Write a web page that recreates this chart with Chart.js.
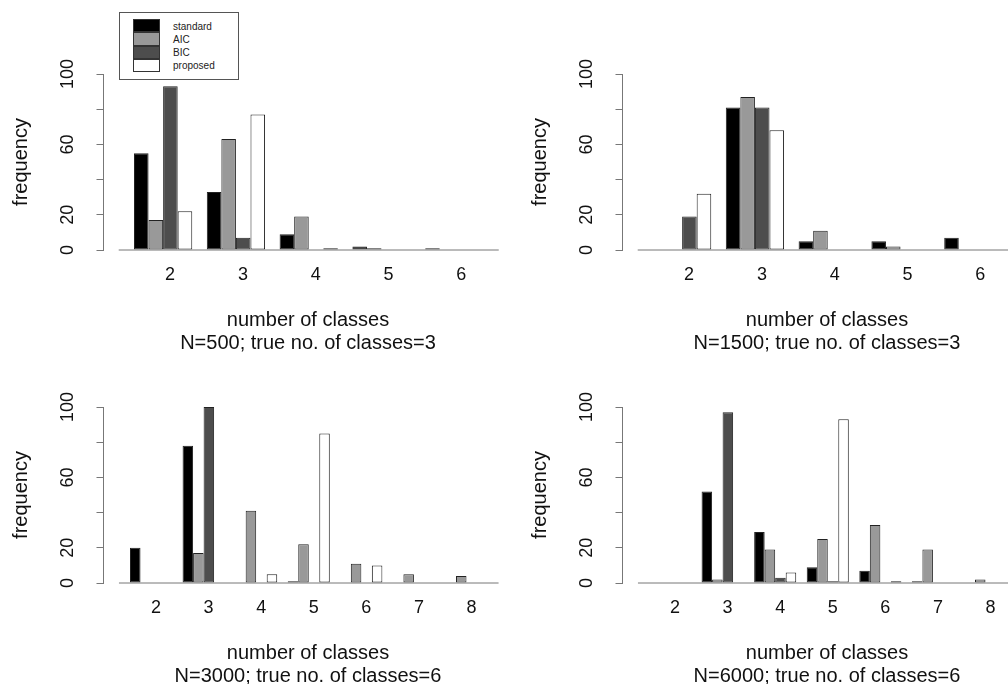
<!DOCTYPE html>
<html>
<head>
<meta charset="utf-8">
<script src="https://cdn.jsdelivr.net/npm/chart.js@4.4.1/dist/chart.umd.min.js"></script>
<style>
  html, body { margin: 0; padding: 0; background: #fff; }
  body { width: 1008px; height: 684px; overflow: hidden; position: relative;
         font-family: "Liberation Sans", Arial, Helvetica, sans-serif; }
  .panel { position: absolute; }
  .panel canvas { display: block; }
  #legend { position: absolute; left: 119px; top: 12px; width: 120px; height: 68px;
            box-sizing: border-box; border: 1px solid #555; background: #fff; z-index: 5; }
  #legend .sw { position: absolute; left: 13px; width: 27px; box-sizing: border-box; border: 1px solid #333; }
  #legend .lb { position: absolute; left: 53px; font-size: 10px; line-height: 13px; color: #222; }
</style>
</head>
<body>
<div class="panel" style="left:0px;top:0px"><canvas id="c1" width="520" height="360"></canvas></div>
<div class="panel" style="left:519px;top:0px"><canvas id="c2" width="520" height="360"></canvas></div>
<div class="panel" style="left:0px;top:333px"><canvas id="c3" width="520" height="360"></canvas></div>
<div class="panel" style="left:519px;top:333px"><canvas id="c4" width="520" height="360"></canvas></div>
<div id="legend"></div>
<script>
// ---------------- data ----------------
const seriesNames = ['standard', 'AIC', 'BIC', 'proposed'];
const seriesColors = ['#000000', '#999999', '#4d4d4d', '#ffffff'];

const classesSmall = [2, 3, 4, 5, 6];
const classesLarge = [2, 3, 4, 5, 6, 7, 8];

const yTickShown = [0, 20, 60, 100];
const xTitle = 'number of classes';
const subtitles = [
  'N=500; true no. of classes=3',
  'N=1500; true no. of classes=3',
  'N=3000; true no. of classes=6',
  'N=6000; true no. of classes=6'
];

const n500Standard = [55, 33, 9, 2, 1];
const n500AIC      = [17, 63, 19, 1, 0];
const n500BIC      = [93, 7, 0, 0, 0];
const n500Proposed = [22, 77, 1, 0, 0];

const n1500Standard = [0, 81, 5, 5, 7];
const n1500AIC      = [0, 87, 11, 2, 0];
const n1500BIC      = [19, 81, 0, 0, 0];
const n1500Proposed = [32, 68, 0, 0, 0];

const n3000Standard = [20, 78, 0, 1, 0, 0, 0];
const n3000AIC      = [0, 17, 41, 22, 11, 5, 4];
const n3000BIC      = [0, 100, 0, 0, 0, 0, 0];
const n3000Proposed = [0, 0, 5, 85, 10, 0, 0];

const n6000Standard = [0, 52, 29, 9, 7, 1, 0];
const n6000AIC      = [0, 2, 19, 25, 33, 19, 2];
const n6000BIC      = [0, 97, 3, 1, 0, 0, 0];
const n6000Proposed = [0, 0, 6, 93, 1, 0, 0];

// ---------------- layout / style ----------------
const FONT = '"Liberation Sans", Arial, Helvetica, sans-serif';
const AXIS_COLOR = '#777';

const baselinePlugin = {
  id: 'baseline',
  afterDatasetsDraw(chart, args, opts) {
    const xs = chart.scales.x, ys = chart.scales.y;
    const cats = chart.data.labels;
    const x0 = xs.getPixelForValue(cats[0] - opts.extent);
    const x1 = xs.getPixelForValue(cats[cats.length - 1] + opts.extent);
    const y0 = ys.getPixelForValue(0);
    const ctx = chart.ctx;
    ctx.save();
    ctx.strokeStyle = opts.color;
    ctx.lineWidth = 1;
    ctx.beginPath();
    ctx.moveTo(x0, y0);
    ctx.lineTo(x1, y0);
    ctx.stroke();
    ctx.restore();
  }
};

function makeChart(id, cats, seriesData, subtitle, xMin, xMax, labelOffset) {
  const datasets = seriesData.map((vals, i) => ({
    label: seriesNames[i],
    data: vals,
    backgroundColor: seriesColors[i],
    borderColor: '#222',
    borderWidth: 1,
    borderSkipped: false,
    categoryPercentage: 0.8,
    barPercentage: 1.0
  }));
  return new Chart(document.getElementById(id), {
    type: 'bar',
    data: { labels: cats, datasets },
    plugins: [baselinePlugin],
    options: {
      responsive: false,
      animation: false,
      devicePixelRatio: 1,
      layout: { padding: { top: 74, right: 7.5, bottom: 0, left: 0 } },
      plugins: {
        legend: { display: false },
        tooltip: { enabled: false },
        baseline: { extent: 0.61, color: AXIS_COLOR }
      },
      scales: {
        x: {
          type: 'linear',
          offset: false,
          min: xMin,
          max: xMax,
          grid: { display: false, drawTicks: false },
          border: { display: false },
          ticks: {
            stepSize: 1,
            includeBounds: false,
            labelOffset: labelOffset,
            padding: 14,
            maxRotation: 0,
            color: '#111',
            font: { family: FONT, size: 18 }
          },
          title: {
            display: true,
            text: [xTitle, subtitle],
            color: '#111',
            font: { family: FONT, size: 20, lineHeight: 1.15 },
            padding: { top: 0, bottom: 5 }
          },
          afterFit(scale) { scale.height = 110; }
        },
        y: {
          min: 0,
          max: 100,
          grid: { drawOnChartArea: false, color: AXIS_COLOR, tickLength: 7 },
          border: { display: true, color: AXIS_COLOR },
          ticks: {
            stepSize: 20,
            minRotation: 90,
            maxRotation: 90,
            crossAlign: 'center',
            padding: 13,
            color: '#111',
            font: { family: FONT, size: 18 },
            callback: (v) => yTickShown.includes(v) ? String(v) : ''
          },
          title: {
            display: true,
            text: 'frequency',
            color: '#111',
            font: { family: FONT, size: 20, lineHeight: 1.2 },
            padding: { top: 9, bottom: 0 }
          },
          afterFit(scale) { scale.width = 103.5; }
        }
      }
    }
  });
}

makeChart('c1', classesSmall, [n500Standard, n500AIC, n500BIC, n500Proposed], subtitles[0], 1.181, 6.799, 7);
makeChart('c2', classesSmall, [n1500Standard, n1500AIC, n1500BIC, n1500Proposed], subtitles[1], 1.181, 6.799, 7);
makeChart('c3', classesLarge, [n3000Standard, n3000AIC, n3000BIC, n3000Proposed], subtitles[2], 1.096, 8.875, 5);
makeChart('c4', classesLarge, [n6000Standard, n6000AIC, n6000BIC, n6000Proposed], subtitles[3], 1.096, 8.875, 5);

// ---------------- legend (HTML) ----------------
const legend = document.getElementById('legend');
seriesNames.forEach((name, i) => {
  const top = 6 + i * 13.3;
  const sw = document.createElement('div');
  sw.className = 'sw';
  sw.style.top = top + 'px';
  sw.style.height = '13.3px';
  sw.style.background = seriesColors[i];
  legend.appendChild(sw);
  const lb = document.createElement('div');
  lb.className = 'lb';
  lb.style.top = (top + 0.5) + 'px';
  lb.textContent = name;
  legend.appendChild(lb);
});
</script>
</body>
</html>
